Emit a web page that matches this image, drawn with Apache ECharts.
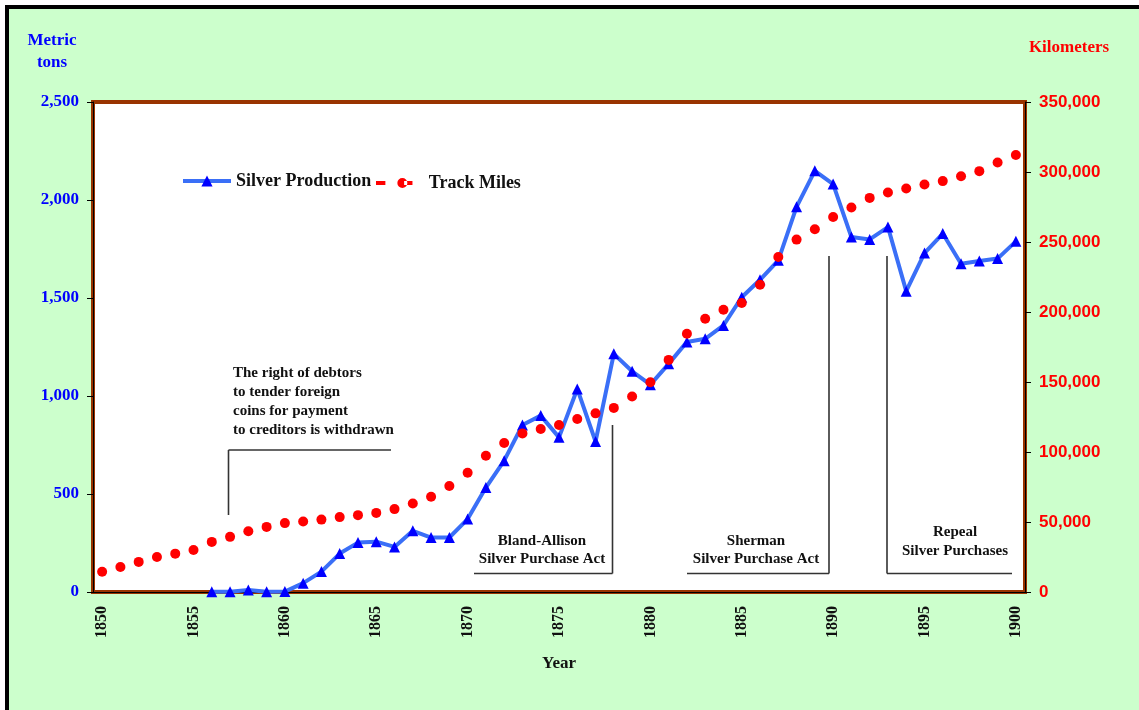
<!DOCTYPE html>
<html>
<head>
<meta charset="utf-8">
<script src="https://cdn.jsdelivr.net/npm/echarts@6/dist/echarts.min.js"></script>
<style>
html,body{margin:0;padding:0;background:#fff;}
#chart{width:1139px;height:710px;}
</style>
</head>
<body>
<div id="chart"></div>
<script>
const years = ['1850','1851','1852','1853','1854','1855','1856','1857','1858','1859',
  '1860','1861','1862','1863','1864','1865','1866','1867','1868','1869',
  '1870','1871','1872','1873','1874','1875','1876','1877','1878','1879',
  '1880','1881','1882','1883','1884','1885','1886','1887','1888','1889',
  '1890','1891','1892','1893','1894','1895','1896','1897','1898','1899','1900'];

const silverProduction = [null,null,null,null,null,null,
  1,1,10,1,2,45,104,196,252,257,230,312,278,278,
  372,533,670,852,900,789,1036,768,1215,1126,
  1058,1164,1276,1292,1360,1504,1593,1692,1965,2149,
  2081,1811,1799,1862,1535,1729,1829,1675,1689,1701,1789];

const trackKm = [14500,17900,21500,25000,27400,30000,35800,39400,43400,46500,
  49200,50300,51700,53500,54900,56500,59200,63200,68000,75700,
  85200,97300,106400,113300,116400,119300,123600,127600,131500,139600,
  149800,165800,184500,195200,201600,206400,219500,239300,251700,259100,
  267900,274600,281500,285400,288200,291100,293500,297000,300600,306800,312100];

const leftTicks = {min:0, max:2500, interval:500};
const rightTicks = {min:0, max:350000, interval:50000};

const serif = '"Liberation Serif", "Times New Roman", serif';
const sans = '"Liberation Sans", Arial, sans-serif';
const fmt = v => Number(v).toLocaleString('en-US');

const chart = echarts.init(document.getElementById('chart'));

function txt(x, y, text, opts) {
  return {
    type: 'text', z: 50,
    style: Object.assign({
      x: x, y: y, text: text,
      font: 'bold 15px ' + serif,
      fill: '#111',
      textAlign: 'left', textVerticalAlign: 'middle'
    }, opts || {})
  };
}
function seg(x1, y1, x2, y2) {
  return {
    type: 'line', z: 50,
    shape: {x1: x1, y1: y1, x2: x2, y2: y2},
    style: {stroke: '#333', lineWidth: 1.6}
  };
}

const redIcon = 'path://M0,3 L9,3 L9,7 L0,7 Z M20.5,5 A4.8,4.8 0 1 0 30.1,5 A4.8,4.8 0 1 0 20.5,5 Z M27,3 L35,3 L35,7 L27,7 Z';

chart.setOption({
  backgroundColor: '#ccffcc',
  animation: false,
  grid: {
    left: 93, right: 114, top: 102, bottom: 118,
    show: true, backgroundColor: '#ffffff',
    borderColor: '#993300', borderWidth: 4
  },
  legend: [
    {
      data: ['Silver Production'],
      left: 181, top: 172, padding: 0, itemWidth: 48, itemHeight: 14,
      lineStyle: {width: 4},
      textStyle: {fontFamily: serif, fontWeight: 'bold', fontSize: 18, color: '#111'}
    },
    {
      data: [{name: 'Track Miles', icon: redIcon}],
      left: 376, top: 174, padding: 0, itemWidth: 39, itemHeight: 10,
      textStyle: {fontFamily: serif, fontWeight: 'bold', fontSize: 18, color: '#111', padding: [0,0,0,10]}
    }
  ],
  xAxis: {
    type: 'category',
    data: years,
    boundaryGap: true,
    name: 'Year',
    nameLocation: 'middle',
    nameGap: 63,
    nameTextStyle: {fontFamily: serif, fontWeight: 'bold', fontSize: 17, color: '#111'},
    axisLine: {lineStyle: {color: '#000', width: 1}},
    axisTick: {interval: 0, length: 5, lineStyle: {color: '#000'}},
    axisLabel: {
      interval: 4, rotate: 90, margin: 14,
      fontFamily: serif, fontWeight: 'bold', fontSize: 16, color: '#111'
    },
    splitLine: {show: false}
  },
  yAxis: [
    {
      type: 'value',
      min: leftTicks.min, max: leftTicks.max, interval: leftTicks.interval,
      position: 'left',
      axisLine: {show: true, lineStyle: {color: '#000', width: 1}},
      axisTick: {show: true, length: 6, lineStyle: {color: '#000'}},
      axisLabel: {
        margin: 14, formatter: fmt,
        fontFamily: serif, fontWeight: 'bold', fontSize: 17, color: '#0000ff'
      },
      splitLine: {show: false}
    },
    {
      type: 'value',
      min: rightTicks.min, max: rightTicks.max, interval: rightTicks.interval,
      position: 'right',
      axisLine: {show: true, lineStyle: {color: '#000', width: 1}},
      axisTick: {show: true, length: 6, lineStyle: {color: '#000'}},
      axisLabel: {
        margin: 14, formatter: fmt,
        fontFamily: sans, fontWeight: 'bold', fontSize: 17, color: '#ff0000'
      },
      splitLine: {show: false}
    }
  ],
  series: [
    {
      name: 'Silver Production',
      type: 'line',
      yAxisIndex: 0,
      data: silverProduction,
      connectNulls: false,
      symbol: 'triangle',
      symbolSize: 11,
      showAllSymbol: true,
      lineStyle: {color: '#3a6ff7', width: 4},
      itemStyle: {color: '#0000ff'},
      z: 3
    },
    {
      name: 'Track Miles',
      type: 'line',
      yAxisIndex: 1,
      data: trackKm,
      symbol: 'circle',
      symbolSize: 10,
      showAllSymbol: true,
      lineStyle: {width: 0, opacity: 0},
      itemStyle: {color: '#ff0000'},
      z: 4
    }
  ],
  graphic: [
    {type: 'rect', z: 60, shape: {x: 0, y: 0, width: 1139, height: 5}, style: {fill: '#fff'}},
    {type: 'rect', z: 60, shape: {x: 0, y: 0, width: 5, height: 710}, style: {fill: '#fff'}},
    {type: 'rect', z: 61, shape: {x: 5, y: 5, width: 1134, height: 4}, style: {fill: '#000'}},
    {type: 'rect', z: 61, shape: {x: 5, y: 5, width: 4, height: 705}, style: {fill: '#000'}},

    txt(52, 41, 'Metric', {font: 'bold 17px ' + serif, fill: '#0000ff', textAlign: 'center'}),
    txt(52, 63, 'tons', {font: 'bold 17px ' + serif, fill: '#0000ff', textAlign: 'center'}),
    txt(1069, 48, 'Kilometers', {font: 'bold 17px ' + serif, fill: '#ff0000', textAlign: 'center'}),

    txt(233, 373, 'The right of debtors'),
    txt(233, 392, 'to tender foreign'),
    txt(233, 411, 'coins for payment'),
    txt(233, 430, 'to creditors is withdrawn'),
    seg(228.5, 450, 391, 450),
    seg(228.5, 450, 228.5, 515),

    txt(542, 541, 'Bland-Allison', {textAlign: 'center'}),
    txt(542, 559, 'Silver Purchase Act', {textAlign: 'center'}),
    seg(474, 573.5, 612.5, 573.5),
    seg(612.5, 425, 612.5, 573.5),

    txt(756, 541, 'Sherman', {textAlign: 'center'}),
    txt(756, 559, 'Silver Purchase Act', {textAlign: 'center'}),
    seg(687, 573.5, 829, 573.5),
    seg(829, 256, 829, 573.5),

    txt(955, 532, 'Repeal', {textAlign: 'center'}),
    txt(955, 551, 'Silver Purchases', {textAlign: 'center'}),
    seg(887, 573.5, 1012, 573.5),
    seg(887, 256, 887, 573.5)
  ]
});
</script>
</body>
</html>
